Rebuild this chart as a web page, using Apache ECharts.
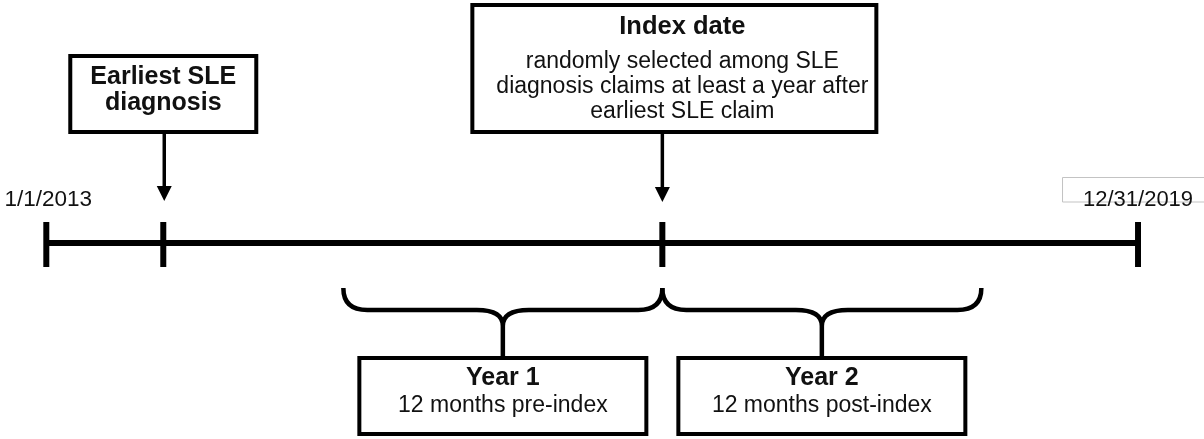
<!DOCTYPE html>
<html><head><meta charset="utf-8">
<script src="https://cdn.jsdelivr.net/npm/echarts@6/dist/echarts.min.js"></script>
<style>html,body{margin:0;padding:0;background:#fff}#c{width:1204px;height:439px}</style>
</head><body><div id="c"></div>
<script>
// ---- data ----
const eventLabels = ['1/1/2013', 'Earliest SLE\ndiagnosis', 'Index date', '12/31/2019'];
const eventYears = [2013.0, 2013.75, 2016.95, 2020.0];
const indexNote = ['randomly selected among SLE', 'diagnosis claims at least a year after', 'earliest SLE claim'];
const periodTitles = ['Year 1', 'Year 2'];
const periodNotes = ['12 months pre-index', '12 months post-index'];
const periodSide = [-1, 1];

// ---- style / layout ----
const FONT = '"Liberation Sans", Arial, sans-serif';
const INK = '#000';
const TXT = '#111';
const LINE_Y = 243;

function txt(text, x, y, size, bold) {
  return {type: 'text', style: {text: text, x: x, y: y, fill: TXT, fontSize: size,
    fontWeight: bold ? 'bold' : 'normal', fontFamily: FONT, align: 'center', verticalAlign: 'middle'}};
}
function box(l, t, r, b, w) {
  w = w || 4;
  return {type: 'rect', shape: {x: l + w / 2, y: t + w / 2, width: r - l - w, height: b - t - w},
    style: {fill: '#fff', stroke: INK, lineWidth: w}};
}
function arrow(x, y0, y1) {
  return [
    {type: 'line', shape: {x1: x, y1: y0, x2: x, y2: y1 - 12}, style: {stroke: INK, lineWidth: 3.5}},
    {type: 'polygon', shape: {points: [[x - 7.5, y1 - 15], [x + 7.5, y1 - 15], [x, y1]]}, style: {fill: INK}}
  ];
}

const chart = echarts.init(document.getElementById('c'), null, {renderer: 'canvas'});
chart.setOption({
  animation: false,
  backgroundColor: '#fff',
  grid: {left: 0, right: 0, top: 0, bottom: 0},
  xAxis: {type: 'value', min: 2012.7031, max: 2020.4230, show: false},
  yAxis: {type: 'value', min: 0, max: 439, inverse: true, show: false},
  series: [
    {
      type: 'line', silent: true, symbol: 'none',
      data: [[eventYears[0], LINE_Y], [eventYears[eventYears.length - 1], LINE_Y]],
      lineStyle: {color: INK, width: 6}, z: 1
    },
    {
      type: 'custom', silent: true, z: 2,
      data: eventYears.map((y, i) => [y, i]),
      renderItem: function (params, api) {
        const i = api.value(1);
        const p = api.coord([api.value(0), LINE_Y]);
        const x = p[0], y = p[1];
        const ch = [{type: 'line', shape: {x1: x, y1: y - 21, x2: x, y2: y + 24}, style: {stroke: INK, lineWidth: 6}}];
        if (i === 0) {
          ch.push(txt(eventLabels[0], x + 2, 200, 22.5, false));
        } else if (i === 3) {
          ch.push({type: 'rect', shape: {x: x - 75.5, y: 177.5, width: 200, height: 24.5},
            style: {fill: null, stroke: '#c3c3c3', lineWidth: 1}});
          ch.push(txt(eventLabels[3], x, 200, 22, false));
        } else if (i === 1) {
          ch.push(box(x - 95, 54, x + 95, 134));
          const ls = eventLabels[1].split('\n');
          ch.push(txt(ls[0], x, 77, 25, true));
          ch.push(txt(ls[1], x, 103, 25, true));
          ch.push.apply(ch, arrow(x + 1, 134, 201));
        } else if (i === 2) {
          ch.push(box(x - 192, 3, x + 216, 134));
          ch.push(txt(eventLabels[2], x + 20, 27, 25.5, true));
          indexNote.forEach((t, k) => ch.push(txt(t, x + 20, 62 + k * 25, 23, false)));
          ch.push.apply(ch, arrow(x, 134, 202));
        }
        return {type: 'group', children: ch};
      }
    },
    {
      type: 'custom', silent: true, z: 3,
      data: periodSide.map((s, i) => [eventYears[2], s, i]),
      renderItem: function (params, api) {
        const x0 = api.coord([api.value(0), LINE_Y])[0];
        const s = api.value(1), i = api.value(2);
        const far = x0 + s * 319;
        const l = Math.min(x0, far), r = Math.max(x0, far);
        const cx = x0 + s * 159.5;
        const d = 'M' + l + ' 288 Q' + l + ' 310 ' + (l + 24) + ' 310 L' + (cx - 26) + ' 310 Q' + cx + ' 310 ' + cx + ' 326 L' + cx + ' 357'
          + ' M' + cx + ' 326 Q' + cx + ' 310 ' + (cx + 26) + ' 310 L' + (r - 24) + ' 310 Q' + r + ' 310 ' + r + ' 288';
        return {type: 'group', children: [
          {type: 'path', shape: {pathData: d}, style: {fill: null, stroke: INK, lineWidth: 4.5}},
          box(cx - 145.5, 356, cx + 145.5, 436),
          txt(periodTitles[i], cx, 378, 25, true),
          txt(periodNotes[i], cx, 406, 23, false)
        ]};
      }
    }
  ]
});
</script></body></html>
